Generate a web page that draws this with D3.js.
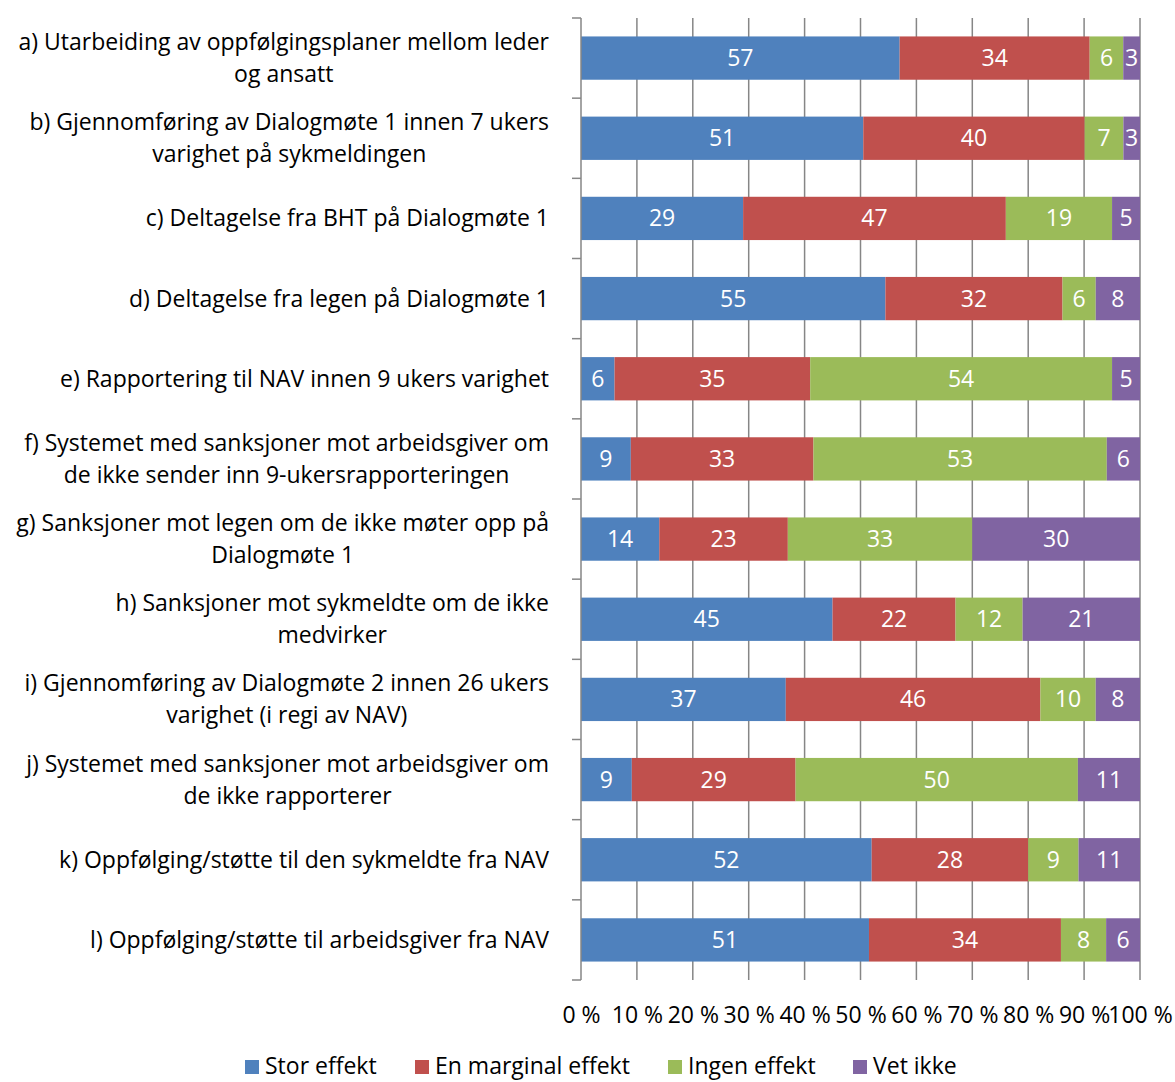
<!DOCTYPE html>
<html><head><meta charset="utf-8">
<script src="https://cdn.jsdelivr.net/npm/d3@7"></script>
<style>body{margin:0;background:#fff;} text{font-family:"Open Sans",Lato,sans-serif;}</style>
</head><body>
<svg id="c" width="1175" height="1082"></svg>
<script>
const categories = [
 "a) Utarbeiding av oppfølgingsplaner mellom leder|og ansatt",
 "b) Gjennomføring av Dialogmøte 1 innen 7 ukers|varighet på sykmeldingen",
 "c) Deltagelse fra BHT på Dialogmøte 1",
 "d) Deltagelse fra legen på Dialogmøte 1",
 "e) Rapportering til NAV innen 9 ukers varighet",
 "f) Systemet med sanksjoner mot arbeidsgiver om|de ikke sender inn 9-ukersrapporteringen",
 "g) Sanksjoner mot legen om de ikke møter opp på|Dialogmøte 1",
 "h) Sanksjoner mot sykmeldte om de ikke|medvirker",
 "i) Gjennomføring av Dialogmøte 2 innen 26 ukers|varighet (i regi av NAV)",
 "j) Systemet med sanksjoner mot arbeidsgiver om|de ikke rapporterer",
 "k) Oppfølging/støtte til den sykmeldte fra NAV",
 "l) Oppfølging/støtte til arbeidsgiver fra NAV"
];
const seriesNames = ["Stor effekt","En marginal effekt","Ingen effekt","Vet ikke"];
const storEffekt     = [57,51,29,55,6,9,14,45,37,9,52,51];
const marginalEffekt = [34,40,47,32,35,33,23,22,46,29,28,34];
const ingenEffekt    = [6,7,19,6,54,53,33,12,10,50,9,8];
const vetIkke        = [3,3,5,8,5,6,30,21,8,11,11,6];
const tickLabels = ["0 %","10 %","20 %","30 %","40 %","50 %","60 %","70 %","80 %","90 %","100 %"];
const colors = ["#4F81BD","#C0504D","#9BBB59","#8064A2"];

const rows = categories.map((c,i)=>({cat:c, "Stor effekt":storEffekt[i], "En marginal effekt":marginalEffekt[i], "Ingen effekt":ingenEffekt[i], "Vet ikke":vetIkke[i]}));
const stack = d3.stack().keys(seriesNames).offset(d3.stackOffsetExpand);
const layers = stack(rows);

const svg = d3.select("#c");
const pLeft=581, pRight=1140, pTop=18, pBottom=980;
const x = d3.scaleLinear().domain([0,1]).range([pLeft,pRight]);
const y = d3.scaleBand().domain(categories).range([pTop,pBottom]).paddingInner(0.46).paddingOuter(0.23);
const yb = d3.scaleBand().domain(categories).range([pTop,pBottom]);

// measure font scale: first label line should span ~537px
const probe = svg.append("text").attr("font-size",20).text("a) Utarbeiding av oppfølgingsplaner mellom leder");
const fs = Math.min(23, 20*537/probe.node().getComputedTextLength());
probe.remove();

// gridlines
svg.append("g").selectAll("line").data(d3.range(1,11)).join("line")
 .attr("x1",d=>x(d/10)).attr("x2",d=>x(d/10)).attr("y1",pTop).attr("y2",pBottom)
 .attr("stroke","#868686").attr("stroke-width",1.5);

// bars
const g = svg.append("g");
layers.forEach((layer,li)=>{
  g.append("g").selectAll("rect").data(layer).join("rect")
   .attr("x",d=>x(d[0])).attr("width",d=>x(d[1])-x(d[0]))
   .attr("y",d=>y(d.data.cat)).attr("height",y.bandwidth())
   .attr("fill",colors[li]);
  g.append("g").selectAll("text").data(layer).join("text")
   .attr("x",d=>(x(d[0])+x(d[1]))/2).attr("y",d=>y(d.data.cat)+y.bandwidth()/2)
   .attr("dy","0.35em").attr("text-anchor","middle").attr("fill","#fff")
   .attr("font-size",fs).text(d=>d.data[layer.key]);
});

// left axis
const yAxis = svg.append("g").attr("transform",`translate(${pLeft},0)`);
yAxis.append("line").attr("x1",0).attr("x2",0).attr("y1",pTop).attr("y2",pBottom).attr("stroke","#868686").attr("stroke-width",1.5);
yAxis.selectAll("line.t").data(d3.range(13)).join("line").attr("class","t")
 .attr("x1",-9).attr("x2",0).attr("y1",d=>pTop+d*yb.step()).attr("y2",d=>pTop+d*yb.step())
 .attr("stroke","#868686").attr("stroke-width",1.5);

// category labels
const labelG = svg.append("g");
categories.forEach(c=>{
  const lines = c.split("|");
  const cy = yb(c)+yb.bandwidth()/2;
  const t = labelG.append("text").attr("font-size",fs).attr("fill","#000").attr("text-anchor","middle");
  const lh = 32;
  lines.forEach((l,i)=>{
    t.append("tspan").attr("y",cy+(i-(lines.length-1)/2)*lh).attr("dy","0.35em").text(l);
  });
  const tsp = t.selectAll("tspan").nodes();
  const maxW = d3.max(tsp,n=>n.getComputedTextLength());
  t.selectAll("tspan").attr("x",549-maxW/2);
});

// x axis labels
const xAxis = d3.axisBottom(x).tickValues(d3.range(0,11).map(d=>d/10)).tickFormat((d,i)=>tickLabels[i]).tickSize(0).tickPadding(27);
const xa = svg.append("g").attr("transform",`translate(0,${pBottom})`).call(xAxis);
xa.select(".domain").remove();
xa.selectAll("text").attr("font-size",fs).attr("fill","#000").style("font-family","'Open Sans',Lato,sans-serif");

// legend
const legX = [245,415,668,853];
const leg = svg.append("g");
seriesNames.forEach((s,i)=>{
  leg.append("rect").attr("x",legX[i]).attr("y",1060).attr("width",14).attr("height",14).attr("fill",colors[i]);
  leg.append("text").attr("x",legX[i]+20).attr("y",1066).attr("dy","0.35em").attr("font-size",fs).attr("fill","#000").text(s);
});
</script>
</body></html>
